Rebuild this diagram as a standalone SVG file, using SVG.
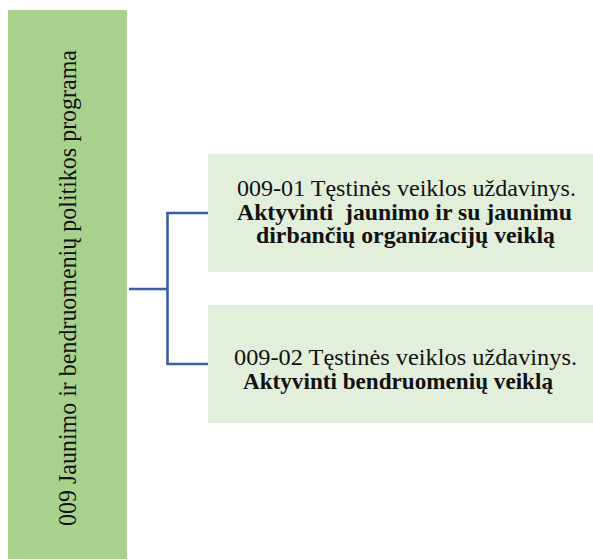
<svg xmlns="http://www.w3.org/2000/svg" width="593" height="560" viewBox="0 0 593 560">
  <style>
    .bar { fill: #a9d18e; }
    .box { fill: #e2efda; }
    .conn { fill: none; stroke: #3b5ea6; stroke-width: 2.6; }
    .t { font-family: "Liberation Serif", "Times New Roman", serif; fill: #111; }
    .r { font-size: 22.5px; }
    .b { font-size: 22.5px; font-weight: bold; }
  </style>
  <rect width="593" height="560" fill="#ffffff"/>
  <g id="connectors">
    <path class="conn" d="M129 289 H167.5"/>
    <path class="conn" d="M167.5 213 V364"/>
    <path class="conn" d="M166.2 213 H208"/>
    <path class="conn" d="M166.2 364 H208"/>
  </g>
  <g id="node-program">
    <rect class="bar" x="8" y="10" width="119" height="549"/>
    <text class="t" font-size="25" transform="translate(76,526) rotate(-90)" textLength="476" lengthAdjust="spacingAndGlyphs">009 Jaunimo ir bendruomenių politikos programa</text>
  </g>
  <g id="node-009-01">
    <rect class="box" x="208" y="154" width="385" height="118"/>
    <text class="t r" x="237" y="196" textLength="339" lengthAdjust="spacingAndGlyphs">009-01 Tęstinės veiklos uždavinys.</text>
    <text class="t b" x="237" y="220" textLength="335" lengthAdjust="spacingAndGlyphs" xml:space="preserve">Aktyvinti  jaunimo ir su jaunimu</text>
    <text class="t b" x="256" y="243" textLength="299" lengthAdjust="spacingAndGlyphs">dirbančių organizacijų veiklą</text>
  </g>
  <g id="node-009-02">
    <rect class="box" x="208" y="305" width="385" height="118"/>
    <text class="t r" x="234" y="365" textLength="343" lengthAdjust="spacingAndGlyphs">009-02 Tęstinės veiklos uždavinys.</text>
    <text class="t b" x="243" y="389" textLength="310" lengthAdjust="spacingAndGlyphs">Aktyvinti bendruomenių veiklą</text>
  </g>
</svg>
